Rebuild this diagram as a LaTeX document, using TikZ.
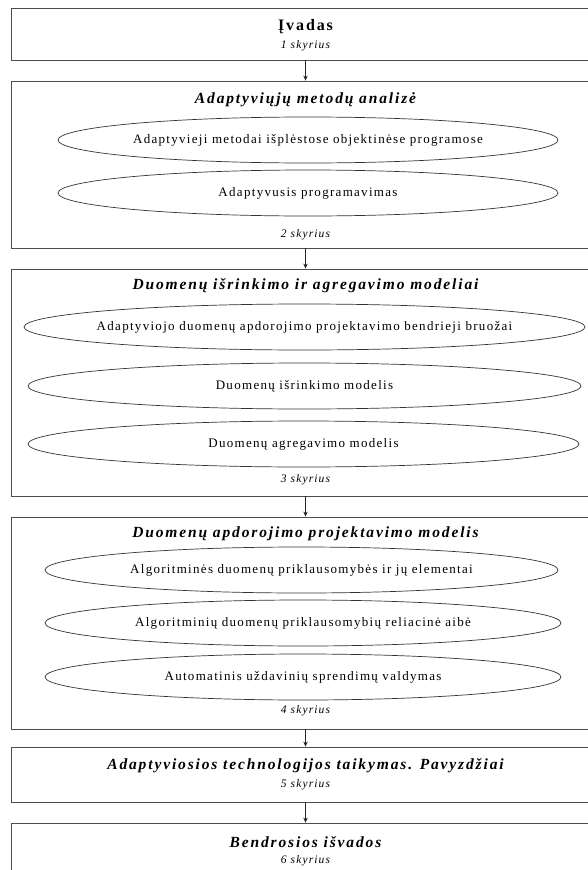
\documentclass[tikz,border=0pt]{standalone}
\usepackage{fontspec}
\setmainfont{Liberation Serif}
\newfontfamily\headfont[LetterSpace=12]{Liberation Serif}
\newfontfamily\itemfont[LetterSpace=10]{Liberation Serif}
\newfontfamily\chapfont[LetterSpace=10]{Liberation Serif}
\usetikzlibrary{shapes.geometric,arrows.meta}
\tikzset{
  frame/.style={draw=black!70, line width=0.8pt, minimum width=589pt, inner sep=0pt},
  head/.style={font=\headfont\fontsize{15.5}{18}\selectfont\bfseries\itshape, inner sep=0pt},
  headup/.style={font=\headfont\fontsize{16}{18}\selectfont\bfseries, inner sep=0pt},
  chap/.style={font=\chapfont\fontsize{11.5}{13}\selectfont\itshape, inner sep=0pt},
  % the oval's size is set by minimum width/height alone, not by its text
  oval/.style={ellipse, draw=black!80, line width=0.7pt, inner ysep=0pt, inner xsep=-260pt,
    minimum height=46pt, font=\itemfont\fontsize{13}{15}\selectfont},
  arr/.style={-{Stealth[length=5pt,width=4.5pt]}, line width=0.8pt, draw=black!85}
}
\begin{document}
\begin{tikzpicture}[x=1pt,y=-1pt]
\useasboundingbox (0,0) rectangle (588,870);
\clip (0,0) rectangle (588,870);
\fill[white] (0,0) rectangle (588,870);

% chapter frames
\node[frame, minimum height=52pt]  (b1) at (305.5,34)    {};
\node[frame, minimum height=167pt] (b2) at (305.5,164.5) {};
\node[frame, minimum height=227pt] (b3) at (305.5,382.5) {};
\node[frame, minimum height=212pt] (b4) at (305.5,623)   {};
\node[frame, minimum height=55pt]  (b5) at (305.5,774.5) {};
\node[frame, minimum height=60pt]  (b6) at (305.5,853)   {};

% chapter 1
\node[headup] (t1) at (305.5,27) {Įvadas};
\node[chap]   (c1) at (305.5,46) {1 skyrius};

% chapter 2
\node[head] (t2) at (305.5,100) {Adaptyviųjų metodų analizė};
\node[oval, minimum width=500pt] (e21) at (308,140) {Adaptyvieji metodai išplėstose objektinėse programose};
\node[oval, minimum width=500pt] (e22) at (308,193) {Adaptyvusis programavimas};
\node[chap] (c2) at (305.5,235) {2 skyrius};

% chapter 3
\node[head] (t3) at (305.5,286) {Duomenų išrinkimo ir agregavimo modeliai};
\node[oval, minimum width=561pt] (e31) at (304.5,327) {Adaptyviojo duomenų apdorojimo projektavimo bendrieji bruožai};
\node[oval, minimum width=553pt] (e32) at (304.5,386) {Duomenų išrinkimo modelis};
\node[oval, minimum width=551pt] (e33) at (303.5,444) {Duomenų agregavimo modelis};
\node[chap] (c3) at (305.5,480) {3 skyrius};

% chapter 4
\node[head] (t4) at (305.5,534) {Duomenų apdorojimo projektavimo modelis};
\node[oval, minimum width=513pt] (e41) at (301.5,570) {Algoritminės duomenų priklausomybės ir jų elementai};
\node[oval, minimum width=516pt] (e42) at (303,623) {Algoritminių duomenų priklausomybių reliacinė aibė};
\node[oval, minimum width=516pt] (e43) at (303,677) {Automatinis uždavinių sprendimų valdymas};
\node[chap] (c4) at (305.5,711) {4 skyrius};

% chapter 5
\node[head] (t5) at (305.5,766) {Adaptyviosios technologijos taikymas. Pavyzdžiai};
\node[chap] (c5) at (305.5,785) {5 skyrius};

% chapter 6
\node[head] (t6) at (305.5,842) {Bendrosios išvados};
\node[chap] (c6) at (305.5,861) {6 skyrius};

% reading order
\draw[arr] (b1.south) -- (b2.north);
\draw[arr] (b2.south) -- (b3.north);
\draw[arr] (b3.south) -- (b4.north);
\draw[arr] (b4.south) -- (b5.north);
\draw[arr] (b5.south) -- (b6.north);
\end{tikzpicture}
\end{document}
